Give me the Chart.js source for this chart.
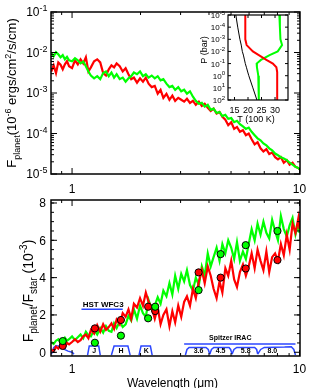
<!DOCTYPE html>
<html>
<head>
<meta charset="utf-8">
<script src="https://cdn.jsdelivr.net/npm/chart.js@4.4.0/dist/chart.umd.min.js"></script>
<style>
html, body { margin: 0; padding: 0; background: #fff; }
#wrap { position: relative; width: 310px; height: 388px; overflow: hidden; }
canvas { position: absolute; }
</style>
</head>
<body>
<div id="wrap">
  <canvas id="topChart" width="310" height="198" style="left:0;top:0;width:310px;height:198px"></canvas>
  <canvas id="bottomChart" width="310" height="198" style="left:0;top:190px;width:310px;height:198px"></canvas>
  <canvas id="insetChart" width="110" height="125" style="left:190px;top:5px;width:110px;height:125px"></canvas>
</div>
<script>
// wavelength grid (micron) shared by the model spectra
const wavelength = [0.81,0.83,0.85,0.87,0.89,0.91,0.93,0.95,0.97,1.00,1.03,1.06,1.09,1.12,1.15,1.18,1.21,1.25,1.29,1.33,1.37,1.41,1.45,1.49,1.53,1.57,1.62,1.67,1.72,1.77,1.82,1.87,1.93,1.99,2.05,2.11,2.17,2.24,2.31,2.38,2.45,2.52,2.60,2.68,2.76,2.84,2.93,3.02,3.11,3.20,3.30,3.40,3.50,3.61,3.72,3.83,3.95,4.07,4.19,4.32,4.45,4.58,4.72,4.86,5.01,5.16,5.31,5.47,5.64,5.81,5.98,6.16,6.35,6.54,6.74,6.94,7.15,7.36,7.58,7.81,8.04,8.28,8.53,8.79,9.05,9.32,9.60,9.89,10.0];

// planet flux (1e-6 ergs/cm2/s/cm)
const greenFlux = [9.6e-3,8.1e-3,1.02e-2,9.0e-3,7.6e-3,8.6e-3,6.8e-3,7.8e-3,6.4e-3,6.1e-3,
  7.2e-3,6.4e-3,5.4e-3,6.0e-3,4.6e-3,3.4e-3,2.7e-3,2.3e-3,2.6e-3,2.2e-3,
  3.1e-3,3.4e-3,2.6e-3,3.2e-3,2.4e-3,2.9e-3,2.2e-3,2.4e-3,1.9e-3,2.3e-3,
  2.6e-3,3.2e-3,2.9e-3,3.4e-3,2.6e-3,2.9e-3,2.4e-3,2.7e-3,2.3e-3,2.6e-3,
  2.05e-3,2.2e-3,1.7e-3,1.4e-3,1.5e-3,1.2e-3,1.4e-3,1.1e-3,1.2e-3,9.6e-4,
  1.1e-3,8.1e-4,6.4e-4,5.4e-4,5.7e-4,4.6e-4,5.1e-4,3.85e-4,4.1e-4,3.2e-4,
  3.4e-4,2.7e-4,2.9e-4,2.3e-4,2.4e-4,1.9e-4,2.05e-4,1.7e-4,1.5e-4,1.3e-4,
  1.4e-4,1.1e-4,9.1e-5,7.6e-5,6.8e-5,5.7e-5,5.1e-5,4.3e-5,3.85e-5,3.2e-5,
  2.9e-5,2.6e-5,2.4e-5,2.2e-5,1.9e-5,1.7e-5,1.5e-5,1.4e-5,1.3e-5];
const redFlux = [3.4e-3,4.8e-3,3.1e-3,5.7e-3,5.0e-3,3.85e-3,5.1e-3,6.1e-3,4.6e-3,4.1e-3,
  6.4e-3,5.1e-3,6.8e-3,5.4e-3,7.6e-3,3.4e-3,4.3e-3,6.1e-3,6.8e-3,5.7e-3,
  3.1e-3,2.7e-3,3.85e-3,4.8e-3,4.3e-3,5.4e-3,4.6e-3,3.4e-3,4.1e-3,2.9e-3,
  2.2e-3,2.4e-3,1.8e-3,2.3e-3,1.9e-3,2.4e-3,1.7e-3,1.4e-3,1.5e-3,9.6e-4,
  1.2e-3,7.6e-4,9.6e-4,6.8e-4,8.6e-4,6.4e-4,7.6e-4,6.8e-4,6.1e-4,7.2e-4,
  5.7e-4,6.4e-4,5.1e-4,6.1e-4,4.8e-4,5.4e-4,4.3e-4,3.6e-4,4.1e-4,3.1e-4,
  3.4e-4,2.6e-4,2.2e-4,1.6e-4,1.9e-4,1.3e-4,1.45e-4,1.1e-4,1.2e-4,9.1e-5,
  1.0e-4,7.2e-5,5.4e-5,6.1e-5,4.3e-5,3.6e-5,4.1e-5,3.1e-5,3.4e-5,2.6e-5,
  2.3e-5,2.6e-5,1.9e-5,2.2e-5,1.7e-5,1.9e-5,1.5e-5,1.4e-5,1.3e-5];

// planet/star contrast (1e-3)
const greenRatio = [0.55,0.45,0.62,0.7,0.5,0.6,0.78,0.62,0.7,0.85,
  0.65,0.8,0.95,0.75,1.1,0.9,0.85,1.2,0.95,1.3,
  1.05,1.4,1.15,1.1,1.55,1.3,1.65,1.35,1.5,1.95,
  1.7,2.3,1.8,2.5,2.1,1.9,2.8,2.3,2.5,2.95,
  2.6,3.3,3.0,3.7,3.1,4.1,3.4,4.2,3.8,4.4,
  3.6,3.3,4.0,3.6,4.6,4.1,5.3,4.6,5.1,5.6,
  4.9,5.8,5.3,6.0,5.6,5.0,5.9,4.9,5.4,5.0,
  5.8,6.6,6.0,6.9,6.3,7.0,6.4,6.1,7.1,6.5,
  6.0,7.3,6.6,6.2,6.8,7.2,6.3,6.9,6.4];
const redRatio = [0.15,0.05,0.3,0.2,0.4,0.3,0.28,0.5,0.42,0.55,
  0.7,0.55,0.65,0.85,0.95,0.75,1.2,1.0,1.45,1.1,
  1.5,1.2,1.35,1.55,1.25,1.75,1.5,2.1,1.9,2.3,
  1.8,2.6,2.4,2.9,2.5,3.2,2.7,2.4,1.8,2.4,
  1.5,2.0,2.3,1.4,2.2,1.6,2.5,1.9,2.7,3.0,
  2.5,3.4,2.9,3.8,4.4,3.7,4.6,4.1,3.4,2.9,
  3.8,3.2,4.5,4.1,4.9,3.9,3.5,4.3,4.7,4.1,
  4.6,5.3,4.5,5.5,4.9,4.4,5.4,4.3,5.1,5.3,
  4.9,5.8,5.2,6.3,5.5,6.9,6.4,7.2,6.6];

// band-integrated points
const photWave = [0.91, 1.26, 1.64, 2.16, 2.32, 3.6, 4.5, 5.8, 8.0];
const photRed = [0.34, 1.28, 1.73, 2.44, 2.21, 4.28, 4.0, 4.49, 4.94];
const photGreen = [0.6, 0.51, 0.89, 1.82, 2.44, 3.33, 5.26, 5.74, 6.5];

// filter curves
const zWave = [0.812, 0.83, 0.85, 0.87, 0.9, 0.93, 0.96, 1.0, 1.02];
const zTrans = [-0.1, 0.25, 0.36, 0.33, 0.24, 0.14, 0.06, 0.0, -0.1];
const jWave = [1.17, 1.19, 1.31, 1.33];
const jTrans = [-0.15, 0.33, 0.33, -0.15];
const hWave = [1.49, 1.53, 1.76, 1.80];
const hTrans = [-0.15, 0.33, 0.33, -0.15];
const kWave = [1.97, 2.01, 2.21, 2.25];
const kTrans = [-0.15, 0.33, 0.33, -0.15];
const irac1Wave = [3.15, 3.2, 3.27, 3.88, 3.97, 4.03];
const irac1Trans = [-0.15, 0.15, 0.26, 0.26, 0.15, -0.1];
const irac2Wave = [4.03, 4.1, 4.2, 4.9, 4.98, 5.05];
const irac2Trans = [-0.1, 0.15, 0.26, 0.26, 0.15, -0.1];
const irac3Wave = [5.05, 5.15, 5.3, 6.35, 6.48, 6.55];
const irac3Trans = [-0.1, 0.15, 0.26, 0.26, 0.15, -0.1];
const irac4Wave = [6.55, 6.75, 7.0, 8.6, 9.2, 9.44, 9.6];
const irac4Trans = [-0.1, 0.15, 0.26, 0.28, 0.3, 0.15, -0.15];
const hstRange = [1.10, 1.67];
const hstLevel = 2.3;
const iracRange = [3.11, 9.6];
const iracLevel = 0.44;
const bandNames = ['z', 'J', 'H', 'K', '3.6', '4.5', '5.8', '8.0'];
const bandCenters = [0.835, 1.25, 1.64, 2.12, 3.6, 4.5, 5.8, 7.6];

// inset P-T profiles (T in 100 K, P in bar)
const pressure = [1e-5, 1e-4, 1e-3, 3e-3, 1e-2, 2e-2, 5e-2, 1e-1, 2e-1, 5e-1, 1, 10, 100];
const tempBlack = [15.5, 16.2, 17.0, 17.5, 17.9, 18.3, 18.7, 19.0, 19.4, 19.9, 20.3, 21.8, 23.3];
const tempRed = [19.0, 19.0, 19.0, 19.5, 21.8, 24.0, 26.8, 29.2, 30.5, 30.8, 30.8, 30.8, 30.8];
const tempGreen = [31.6, 31.8, 32.0, 32.6, 31.0, 28.0, 24.8, 23.2, 23.3, 23.6, 23.8, 24.0, 24.0];

// tick labels
const fluxExponents = [-1, -2, -3, -4, -5];
const waveLabels = [1, 10];
const ratioLabels = [0, 2, 4, 6, 8];
const tempLabels = [15, 20, 25, 30];
const pressureExponents = [-5, -4, -3, -2, -1, 0, 1, 2];

const RED = '#ff0000', GREEN = '#00ff00', BLUE = '#2b46ff';
const FONT = '"Liberation Sans", Arial, sans-serif';

function pts(xs, ys) { return xs.map((v, i) => ({ x: v, y: ys[i] })); }

function line(xs, ys, color, width, order) {
    return { data: pts(xs, ys), showLine: true, borderColor: color, borderWidth: width,
             pointRadius: 0, fill: false, tension: 0, order: order };
}

// text with sub (-1) / superscript (1) pieces
function richText(ctx, parts, x, y, size, align, bold) {
    const f = k => (bold ? 'bold ' : '') + (k ? Math.round(size * 0.72) : size) + 'px ' + FONT;
    let w = 0;
    for (const [t, k] of parts) { ctx.font = f(k); w += ctx.measureText(t).width; }
    let cx = align === 'right' ? x - w : align === 'center' ? x - w / 2 : x;
    ctx.textAlign = 'left';
    ctx.textBaseline = 'alphabetic';
    for (const [t, k] of parts) {
        ctx.font = f(k);
        ctx.fillText(t, cx, y + (k === 1 ? -size * 0.42 : k === -1 ? size * 0.3 : 0));
        cx += ctx.measureText(t).width;
    }
}

function rotated(ctx, parts, x, y, size) {
    ctx.save();
    ctx.translate(x, y);
    ctx.rotate(-Math.PI / 2);
    richText(ctx, parts, 0, 0, size, 'center');
    ctx.restore();
}

// box + inward ticks on all four sides
function drawFrame(chart, spec) {
    const { ctx, chartArea: a, scales: { x, y } } = chart;
    ctx.save();
    ctx.strokeStyle = '#000';
    ctx.lineWidth = 1;
    ctx.beginPath();
    const vt = (vals, len) => vals.forEach(v => {
        const p = x.getPixelForValue(v);
        ctx.moveTo(p, a.bottom); ctx.lineTo(p, a.bottom - len);
        ctx.moveTo(p, a.top); ctx.lineTo(p, a.top + len);
    });
    const ht = (vals, len) => vals.forEach(v => {
        const p = y.getPixelForValue(v);
        ctx.moveTo(a.left, p); ctx.lineTo(a.left + len, p);
        ctx.moveTo(a.right, p); ctx.lineTo(a.right - len, p);
    });
    vt(spec.xMajor, spec.major); vt(spec.xMinor, spec.minor);
    ht(spec.yMajor, spec.major); ht(spec.yMinor, spec.minor);
    ctx.stroke();
    ctx.lineWidth = spec.frame;
    ctx.strokeRect(a.left, a.top, a.right - a.left, a.bottom - a.top);
    ctx.restore();
}

const waveMinor = [0.9, 2, 3, 4, 5, 6, 7, 8, 9];
const fluxMajor = fluxExponents.map(e => Math.pow(10, e));
const fluxMinor = [];
for (let e = -5; e < -1; e++) for (let m = 2; m < 10; m++) fluxMinor.push(m * Math.pow(10, e));
const ratioMinor = [];
for (let v = 0.5; v < 8; v += 1) ratioMinor.push(v, v + 0.5);

const common = {
    responsive: false, animation: false, devicePixelRatio: 1, events: [],
    plugins: { legend: { display: false }, tooltip: { enabled: false } }
};

// ---- top panel: planet flux ----
new Chart(document.getElementById('topChart'), {
    type: 'scatter',
    data: { datasets: [
        line(wavelength, greenFlux, GREEN, 2.2, 0),
        line(wavelength, redFlux, RED, 2.2, 1)
    ] },
    options: Object.assign({}, common, {
        layout: { padding: { left: 51, right: 10, top: 12, bottom: 24 } },
        scales: {
            x: { type: 'logarithmic', min: 0.808, max: 10.05, display: false },
            y: { type: 'logarithmic', min: 1e-5, max: 1e-1, display: false }
        }
    }),
    plugins: [{
        id: 'deco',
        afterDraw(chart) {
            const { ctx, chartArea: a, scales: { x, y } } = chart;
            drawFrame(chart, { xMajor: waveLabels, xMinor: waveMinor, yMajor: fluxMajor, yMinor: fluxMinor, major: 6, minor: 3, frame: 1.5 });
            ctx.fillStyle = '#000';
            fluxExponents.forEach(e => richText(ctx, [['10', 0], [String(e), 1]], a.left - 3.5, y.getPixelForValue(Math.pow(10, e)) + 4.3, 12, 'right'));
            waveLabels.forEach(v => richText(ctx, [[String(v), 0]], x.getPixelForValue(v), 193, 12, 'center'));
            rotated(ctx, [['F', 0], ['planet', -1], ['(10', 0], ['-6', 1], [' ergs/cm', 0], ['2', 1], ['/s/cm)', 0]], 16, 93, 13);
        }
    }]
});

// ---- inset: pressure-temperature profiles ----
new Chart(document.getElementById('insetChart'), {
    type: 'scatter',
    data: { datasets: [
        line(tempRed, pressure, RED, 2, 0),
        line(tempGreen, pressure, GREEN, 2, 1),
        line(tempBlack, pressure, '#000', 1, 2)
    ] },
    options: Object.assign({}, common, {
        layout: { padding: { left: 38, right: 12, top: 10, bottom: 30 } },
        scales: {
            x: { type: 'linear', min: 12.6, max: 34.8, display: false },
            y: { type: 'logarithmic', min: 1e-5, max: 1e2, reverse: true, display: false }
        }
    }),
    plugins: [{
        id: 'deco',
        beforeDatasetsDraw(chart) {
            const { ctx, chartArea: a } = chart;
            ctx.fillStyle = '#fff';
            ctx.fillRect(a.left, a.top, a.right - a.left, a.bottom - a.top);
        },
        afterDraw(chart) {
            const { ctx, chartArea: a, scales: { x, y } } = chart;
            drawFrame(chart, { xMajor: tempLabels, xMinor: [], yMajor: pressureExponents.map(e => Math.pow(10, e)), yMinor: [], major: 3, minor: 1.5, frame: 1.2 });
            ctx.fillStyle = '#000';
            tempLabels.forEach(v => richText(ctx, [[String(v), 0]], x.getPixelForValue(v), a.bottom + 12.5, 9, 'center'));
            richText(ctx, [['T (100 K)', 0]], 66, 116.5, 9, 'center');
            pressureExponents.forEach(e => richText(ctx, [['10', 0], [String(e), 1]], a.left - 3, y.getPixelForValue(Math.pow(10, e)) + 3, 8, 'right'));
            rotated(ctx, [['P (bar)', 0]], 17, 45, 9);
        }
    }]
});

// ---- bottom panel: contrast ----
const filterSets = [[zWave, zTrans], [jWave, jTrans], [hWave, hTrans], [kWave, kTrans],
    [irac1Wave, irac1Trans], [irac2Wave, irac2Trans], [irac3Wave, irac3Trans], [irac4Wave, irac4Trans]];

new Chart(document.getElementById('bottomChart'), {
    type: 'scatter',
    data: { datasets: [
        { data: pts(photWave, photGreen), pointRadius: 3.6, pointBackgroundColor: GREEN, pointBorderColor: '#000', pointBorderWidth: 1, order: 0 },
        { data: pts(photWave, photRed), pointRadius: 3.6, pointBackgroundColor: RED, pointBorderColor: '#000', pointBorderWidth: 1, order: 0 },
        line(wavelength, redRatio, RED, 2.2, 1),
        line(wavelength, greenRatio, GREEN, 2.2, 2),
        line(hstRange, [hstLevel, hstLevel], BLUE, 1.5, 3),
        line(iracRange, [iracLevel, iracLevel], BLUE, 1.5, 3)
    ].concat(filterSets.map(f => line(f[0], f[1], BLUE, 1.5, 3))) },
    options: Object.assign({}, common, {
        layout: { padding: { left: 51, right: 10, top: 10, bottom: 32 } },
        scales: {
            x: { type: 'logarithmic', min: 0.808, max: 10.05, display: false },
            y: { type: 'linear', min: -0.2, max: 8.16, display: false }
        }
    }),
    plugins: [{
        id: 'deco',
        afterDraw(chart) {
            const { ctx, chartArea: a, scales: { x, y } } = chart;
            drawFrame(chart, { xMajor: waveLabels, xMinor: waveMinor, yMajor: ratioLabels, yMinor: ratioMinor, major: 6, minor: 3, frame: 1.5 });
            ctx.fillStyle = '#000';
            ratioLabels.forEach(v => richText(ctx, [[String(v), 0]], a.left - 5, y.getPixelForValue(v) + 4.3, 12, 'right'));
            waveLabels.forEach(v => richText(ctx, [[String(v), 0]], x.getPixelForValue(v), 183, 12, 'center'));
            richText(ctx, [['Wavelength (\u03bcm)', 0]], 172.5, 196.5, 12, 'center');
            rotated(ctx, [['F', 0], ['planet', -1], ['/F', 0], ['star', -1], [' (10', 0], ['-3', 1], [')', 0]], 33, 101, 14);
            bandNames.forEach((n, i) => richText(ctx, [[n, 0]], x.getPixelForValue(bandCenters[i]), y.getPixelForValue(0.07) + 2.5, 7, 'center', true));
            richText(ctx, [['HST WFC3', 0]], x.getPixelForValue(1.37), y.getPixelForValue(hstLevel) - 2.5, 8, 'center', true);
            richText(ctx, [['Spitzer IRAC', 0]], x.getPixelForValue(4.96), y.getPixelForValue(iracLevel) - 4, 7, 'center', true);
        }
    }]
});
</script>
</body>
</html>
